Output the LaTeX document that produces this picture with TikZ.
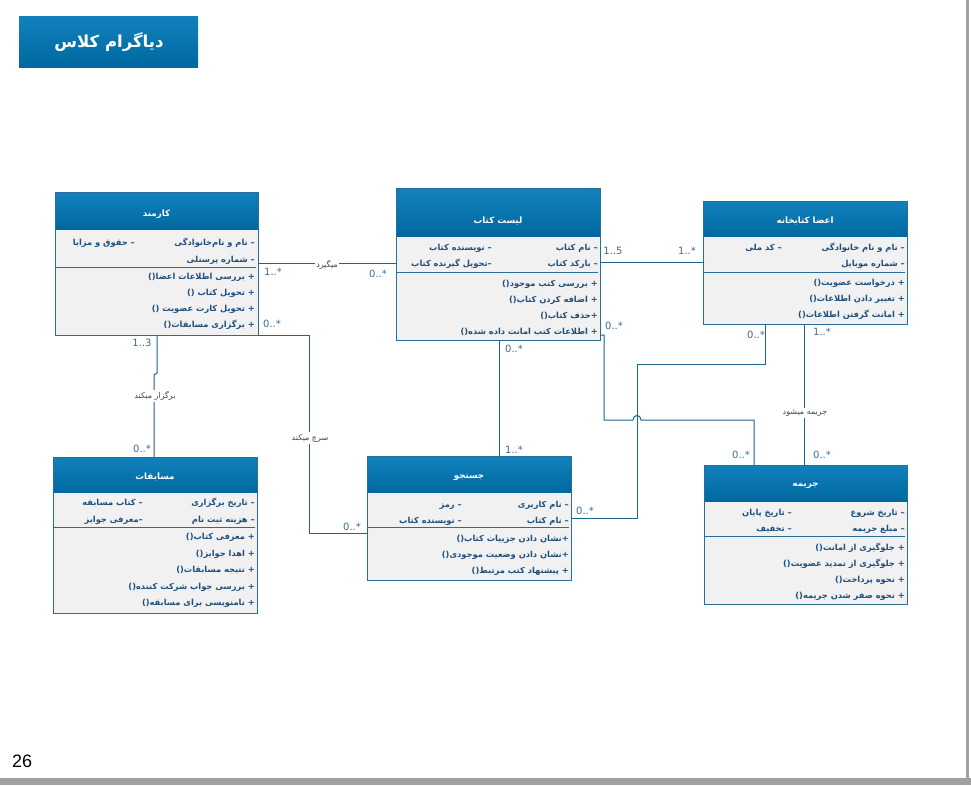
\documentclass[tikz,border=0pt]{standalone}
\usepackage{fontspec}
\setmainfont{DejaVu Sans}
\newfontfamily\arabicfont[Script=Arabic]{DejaVu Sans}
\newfontfamily\numfont{Liberation Sans}
\TeXXeTstate=1
\definecolor{hdrtop}{HTML}{1282BC}
\definecolor{hdrbot}{HTML}{0068A0}
\definecolor{bodyfill}{HTML}{F1F1F1}
\definecolor{edge}{HTML}{2A6E98}
\definecolor{connc}{HTML}{1F6492}
\definecolor{txt}{HTML}{1F4F7C}
\definecolor{multc}{HTML}{3A6C9C}
\definecolor{lbltxt}{HTML}{444444}
\definecolor{framec}{HTML}{A0A0A0}
\tikzset{
  classbox/.style={fill=bodyfill, anchor=north west, inner sep=0pt, outer sep=0pt},
  hdrtext/.style={text=white, font=\arabicfont\bfseries\fontsize{8.7}{10}\selectfont, inner sep=0pt},
  attr/.style={anchor=east, text=txt, font=\arabicfont\bfseries\fontsize{8.3}{10}\selectfont, inner sep=0pt, text height=7pt, text depth=2pt},
  sepline/.style={draw=edge, line width=1pt},
  conn/.style={draw=connc, line width=1pt},
  mult/.style={text=multc, font=\fontsize{10}{12}\selectfont, inner sep=0pt},
  lbl/.style={text=lbltxt, font=\arabicfont\fontsize{8}{9}\selectfont, fill=white, inner sep=1.5pt},
}
\newcommand\umlclass[8]{%
  \node[classbox, minimum width={#4-#2}, minimum height={#5-#3}] (#1) at (#2,#3) {};
  \shade[top color=hdrtop, bottom color=hdrbot] (#1.north west) rectangle (#1.east |- 0,#6);
  \draw[edge, line width=1pt] (#1.north west) rectangle (#1.south east);
  \draw[sepline] ({#2+1},#7) -- ({#4-2},#7);
  \node[hdrtext] (#1-t) at ({(#2+#4)/2},{#6-15}) {#8};
}
\newcommand\rows[5]{%
  \foreach \t [count=\i] in {#5} {\node[attr] (#1\i) at ({#2},{#3+(\i-1)*#4}) {\t};}
}
\begin{document}
\begin{tikzpicture}[x=1pt,y=-1pt]
\useasboundingbox (0,0) rectangle (971,785);
\fill[white] (0,0) rectangle (971,785);
\fill[framec] (0,778) rectangle (971,785);
\fill[framec] (966,0) rectangle (969,778);

% title
\shade[top color=hdrtop, bottom color=hdrbot] (19,16) rectangle (198,67);
\node[text=white, font=\arabicfont\bfseries\fontsize{16.5}{18}\selectfont, inner sep=0pt] (title) at (109,42) {\beginR دیاگرام کلاس\endR};

% classes
\umlclass{karmand}{55}{192}{258}{335}{229}{267}{\beginR کارمند\endR}
\rows{ka}{255}{243}{17}{\beginR – نام و نام‌خانوادگی\endR,\beginR – شماره پرسنلی\endR}
\rows{kb}{135}{243}{17}{\beginR – حقوق و مزایا\endR}
\rows{km}{255}{277}{16}{\beginR + بررسی اطلاعات اعضا()\endR,\beginR + تحویل کتاب ()\endR,\beginR + تحویل کارت عضویت ()\endR,\beginR + برگزاری مسابقات()\endR}

\umlclass{list}{396}{188}{600}{340}{236}{272}{\beginR لیست کتاب\endR}
\rows{la}{598}{248}{16}{\beginR – نام کتاب\endR,\beginR – بارکد کتاب\endR}
\rows{lb}{492}{248}{16}{\beginR – نویسنده کتاب\endR,\beginR –تحویل گیرنده کتاب\endR}
\rows{lm}{598}{284}{16}{\beginR + بررسی کتب موجود()\endR,\beginR + اضافه کردن کتاب()\endR,\beginR +حذف کتاب()\endR,\beginR + اطلاعات کتب امانت داده شده()\endR}

\umlclass{aza}{703}{201}{907}{324}{236}{272}{\beginR اعضا کتابخانه\endR}
\rows{aa}{905}{248}{16}{\beginR – نام و نام خانوادگی\endR,\beginR – شماره موبایل\endR}
\rows{ab}{782}{248}{16}{\beginR – کد ملی\endR}
\rows{am}{905}{283}{16}{\beginR + درخواست عضویت()\endR,\beginR + تغییر دادن اطلاعات()\endR,\beginR + امانت گرفتن اطلاعات()\endR}

\umlclass{mos}{53}{457}{257}{613}{492}{527}{\beginR مسابقات\endR}
\rows{ma}{255}{503}{17}{\beginR – تاریخ برگزاری\endR,\beginR – هزینه ثبت نام\endR}
\rows{mb}{143}{503}{17}{\beginR – کتاب مسابقه\endR,\beginR –معرفی جوایز\endR}
\rows{mm}{255}{537}{16.5}{\beginR + معرفی کتاب()\endR,\beginR + اهدا جوایز()\endR,\beginR + نتیجه مسابقات()\endR,\beginR + بررسی جواب شرکت کننده()\endR,\beginR + نامنویسی برای مسابقه()\endR}

\umlclass{jos}{367}{456}{571}{580}{492}{527}{\beginR جستجو\endR}
\rows{ja}{569}{505}{16}{\beginR – نام کاربری\endR,\beginR – نام کتاب\endR}
\rows{jb}{462}{505}{16}{\beginR – رمز\endR,\beginR – نویسنده کتاب\endR}
\rows{jm}{569}{539}{16}{\beginR +نشان دادن جزییات کتاب()\endR,\beginR +نشان دادن وضعیت موجودی()\endR,\beginR + پیشنهاد کتب مرتبط()\endR}

\umlclass{jar}{704}{465}{907}{604}{501}{536}{\beginR جریمه\endR}
\rows{ra}{905}{513}{15.5}{\beginR – تاریخ شروع\endR,\beginR – مبلغ جریمه\endR}
\rows{rb}{792}{513}{15.5}{\beginR – تاریخ پایان\endR,\beginR – تخفیف\endR}
\rows{rm}{905}{548}{16}{\beginR + جلوگیری از امانت()\endR,\beginR + جلوگیری از تمدید عضویت()\endR,\beginR + نحوه پرداخت()\endR,\beginR + نحوه صفر شدن جریمه()\endR}

% connectors
\draw[conn] (karmand.east |- 0,263) -- (list.west |- 0,263);
\coordinate (s1) at (309,335);
\draw[conn] (karmand.south east) -- (s1) |- (jos.west |- 0,533);
\draw[conn] (karmand.south -| 157,0) -- (157,373) -- (154,375) -- (mos.north -| 154,0);
\draw[conn] (list.south -| 499,0) -- (jos.north -| 499,0);
\draw[conn] (list.east |- 0,262) -- (aza.west |- 0,262);
\draw[conn] (list.east |- 0,335) -- (604,335) -- (604,420) -- (633,420) .. controls (633,414) and (641,414) .. (641,420) -- (754,420) -- (jar.north -| 754,0);
\draw[conn] (aza.south -| 765,0) -- (765,364) -- (637,364) -- (637,518) -- (jos.east |- 0,518);
\draw[conn] (aza.south -| 804,0) -- (jar.north -| 804,0);

% connector labels
\node[lbl] (l1) at (327,265) {\beginR میگیرد\endR};
\node[lbl] (l2) at (155,396) {\beginR برگزار میکند\endR};
\node[lbl] (l3) at (310,438) {\beginR سرچ میکند\endR};
\node[lbl] (l4) at (805,413) {\beginR جریمه میشود\endR};

% multiplicities
\node[mult] (m1) at (273,272) {1..*};
\node[mult] (m2) at (378,274) {0..*};
\node[mult] (m3) at (272,324) {0..*};
\node[mult] (m4) at (142,343) {1..3};
\node[mult] (m5) at (142,449) {0..*};
\node[mult] (m6) at (352,527) {0..*};
\node[mult] (m7) at (514,349) {0..*};
\node[mult] (m8) at (514,450) {1..*};
\node[mult] (m9) at (613,251) {1..5};
\node[mult] (m10) at (687,251) {1..*};
\node[mult] (m11) at (614,326) {0..*};
\node[mult] (m12) at (756,335) {0..*};
\node[mult] (m13) at (822,332) {1..*};
\node[mult] (m14) at (741,455) {0..*};
\node[mult] (m15) at (822,455) {0..*};
\node[mult] (m16) at (585,511) {0..*};

\node[font=\numfont\fontsize{18}{20}\selectfont, anchor=west, inner sep=0pt] (pg) at (12,761) {26};
\end{tikzpicture}
\end{document}
